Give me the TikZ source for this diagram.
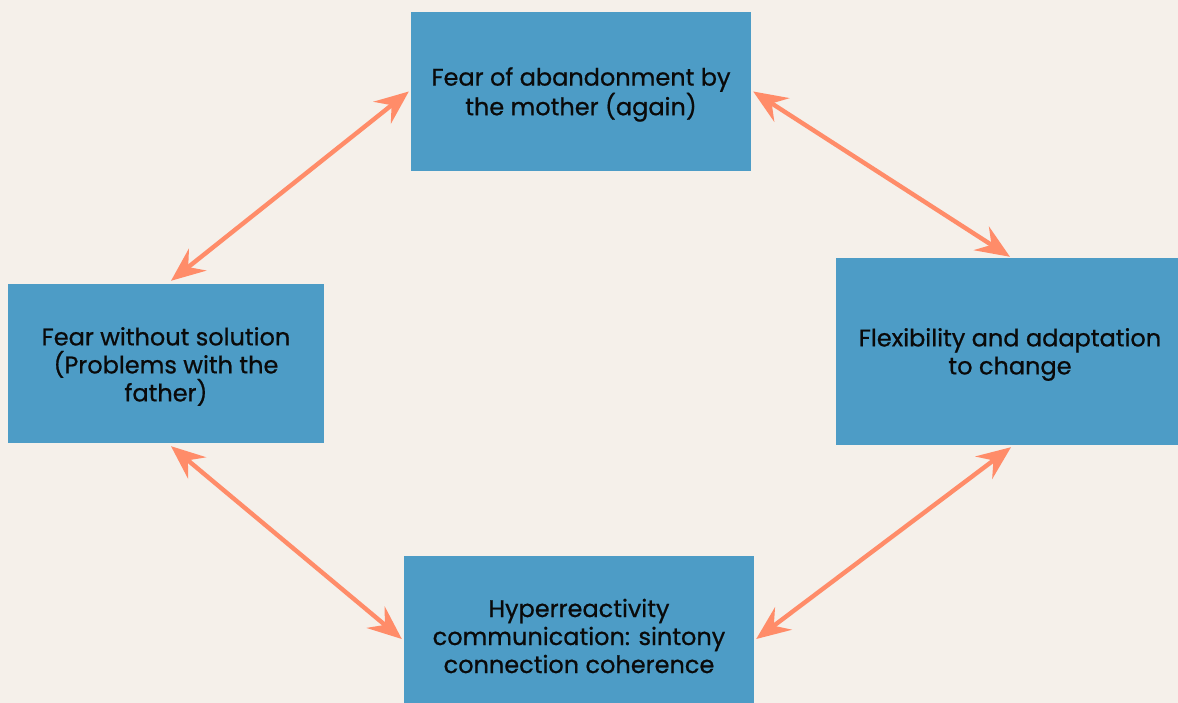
\documentclass[tikz,border=0pt]{standalone}
\usepackage{fontspec}
\setmainfont{Poppins}[FakeBold=0.7]
\usetikzlibrary{arrows.meta}
\definecolor{bgc}{HTML}{F5F0EA}
\definecolor{boxc}{HTML}{4D9CC6}
\definecolor{arrc}{HTML}{FF8C69}
\definecolor{txtc}{HTML}{0A0A0A}
\tikzset{
  box/.style={fill=boxc, draw=none, inner sep=0pt},
  boxtext/.style={align=center, text=txtc, inner sep=0pt,
    font=\fontsize{24pt}{28pt}\selectfont},
  link/.style={draw=arrc, line width=4.4pt,
    {Stealth[length=34pt,width=28pt,inset=12pt]}-{Stealth[length=34pt,width=28pt,inset=12pt]}}
}
\begin{document}
\begin{tikzpicture}[x=1pt,y=-1pt]
\fill[bgc] (0,0) rectangle (1178,703);
\useasboundingbox (0,0) rectangle (1178,703);
\node[box, minimum width=340pt, minimum height=159pt,
  label={[boxtext, yshift=-3pt]center:{Fear of abandonment by\\the mother (again)}}] (top) at (581,91.5) {};
\node[box, minimum width=316pt, minimum height=159pt,
  label={[boxtext, yshift=-3pt]center:{Fear without solution\\(Problems with the\\father)}}] (left) at (166,363.5) {};
\node[box, minimum width=348pt, minimum height=187pt,
  label={[boxtext, yshift=-3pt]center:{Flexibility and adaptation\\to change}}] (right) at (1010,351.5) {};
\node[box, minimum width=350pt, minimum height=160pt,
  label={[boxtext]center:{Hyperreactivity\\communication: sintony\\connection coherence}}] (bottom) at (579,636) {};
\draw[link] ([xshift=5pt,yshift=3pt]left.north) -- ([xshift=-2pt]top.west);
\draw[link] ([xshift=2pt]top.east) -- ([yshift=1pt]right.north);
\draw[link] ([xshift=5pt,yshift=-3pt]left.south) -- ([xshift=-2pt,yshift=-3pt]bottom.west);
\draw[link] ([xshift=1pt,yshift=-2pt]right.south) -- ([xshift=2pt,yshift=-3pt]bottom.east);
\end{tikzpicture}
\end{document}
